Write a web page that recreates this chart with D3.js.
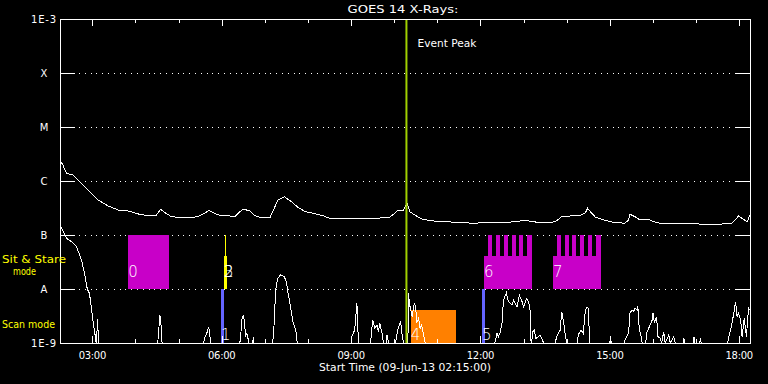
<!DOCTYPE html>
<html><head><meta charset="utf-8">
<script src="https://cdn.jsdelivr.net/npm/d3@7"></script>
<style>
html,body{margin:0;padding:0;background:#000;}
svg{display:block;background:#000;}
text{font-family:"DejaVu Sans",sans-serif;}
</style></head><body>
<svg id="chart" width="768" height="384"></svg>
<script>
// ---------------- data ----------------
const chartTitle = "GOES 14 X-Rays:";
const xAxisTitle = "Start Time (09-Jun-13 02:15:00)";
const timeDomain = ["02:15", "18:15"];
const fluxDomain = [1e-9, 1e-3];
const yTickValues = [1e-9, 1e-8, 1e-7, 1e-6, 1e-5, 1e-4, 1e-3];
const yTickLabels = ["1E-9", "A", "B", "C", "M", "X", "1E-3"];
const gridLevels = [1e-8, 1e-7, 1e-6, 1e-5, 1e-4];
const eventPeakTime = "10:17";
const eventPeakLabel = "Event Peak";
const modeNames = ["Sit & Stare", "mode", "Scan mode"];

// GOES long channel (1-8 A), [time, W/m^2]
const longChannel = [
["02:15",2.45e-6],["02:19",1.98e-6],["02:24",1.39e-6],["02:33",1.29e-6],["02:40",1.04e-6],
["02:54",6.8e-7],["03:08",4.45e-7],["03:22",3.44e-7],["03:36",2.9e-7],["03:50",2.78e-7],
["04:04",2.45e-7],["04:17",2.28e-7],["04:29",2.34e-7],["04:35",2.99e-7],["04:41",2.59e-7],
["04:50",2.18e-7],["05:09",2.07e-7],["05:27",2.18e-7],["05:36",2.52e-7],["05:42",2.86e-7],
["05:50",2.52e-7],["06:00",2.25e-7],["06:09",2.28e-7],["06:18",2.18e-7],["06:25",2.7e-7],
["06:30",2.99e-7],["06:39",2.82e-7],["06:46",2.28e-7],["06:55",2.09e-7],["07:07",2.09e-7],
["07:12",2.9e-7],["07:18",4.45e-7],["07:27",5.12e-7],["07:37",4.14e-7],["07:45",3.34e-7],
["07:56",2.7e-7],["08:08",2.52e-7],["08:22",2.25e-7],["08:31",2.02e-7],["08:52",1.98e-7],
["09:13",2.02e-7],["09:34",2.02e-7],["09:54",2.15e-7],["10:01",2.55e-7],["10:05",2.84e-7],
["10:12",2.78e-7],["10:18",3.86e-7],["10:22",2.67e-7],["10:29",2.34e-7],["10:39",1.95e-7],
["10:54",1.82e-7],["11:13",1.76e-7],["11:32",1.7e-7],["11:50",1.65e-7],["12:18",1.72e-7],
["12:36",1.7e-7],["12:55",1.82e-7],["13:05",1.84e-7],["13:19",1.72e-7],["13:40",1.72e-7],
["13:46",1.84e-7],["13:53",2.18e-7],["14:05",2.25e-7],["14:19",2.32e-7],["14:26",2.59e-7],
["14:29",3.12e-7],["14:33",2.7e-7],["14:40",2.13e-7],["14:51",1.9e-7],["15:05",1.72e-7],
["15:21",1.65e-7],["15:26",1.9e-7],["15:28",2.42e-7],["15:35",2.18e-7],["15:42",1.9e-7],
["15:54",1.95e-7],["16:01",1.76e-7],["16:10",1.65e-7],["16:34",1.65e-7],["16:57",1.6e-7],
["17:34",1.59e-7],["17:50",1.65e-7],["17:55",1.95e-7],["17:59",2.25e-7],["18:06",1.95e-7],
["18:11",1.76e-7],["18:15",2.34e-7]
];

// GOES short channel (0.5-4 A), [time, W/m^2]; 1e-9 = at/below floor
const shortChannel = [
["02:15",1.53e-7],["02:20",1.15e-7],["02:24",8.7e-8],["02:31",7.5e-8],["02:38",6.1e-8],
["02:45",3.4e-8],["02:50",1.7e-8],["02:53",9.9e-9],["02:56",8.3e-9],["02:59",4.1e-9],
["03:01",2.5e-9],["03:03",1.7e-9],["03:05",1.06e-9],["03:06",1e-9],["03:07",2.75e-9],["03:09",1e-9],
["04:31",1e-9],["04:34",3.3e-9],["04:36",1.87e-9],["04:37",1e-9],
["05:35",1e-9],["05:36",1.22e-9],["05:40",1.62e-9],["05:42",2.0e-9],["05:43",1.51e-9],["05:45",1e-9],
["06:25",1e-9],["06:26",1.14e-9],["06:28",2.67e-9],["06:30",3.3e-9],["06:32",2.32e-9],["06:33",1.31e-9],
["06:35",1.51e-9],["06:38",1e-9],["06:43",1e-9],["06:44",1.31e-9],["06:45",1e-9],
["07:11",1e-9],["07:13",2.32e-9],["07:15",9.6e-9],["07:18",1.58e-8],["07:22",1.82e-8],["07:27",1.69e-8],
["07:30",1.37e-8],["07:32",8.9e-9],["07:36",4.45e-9],["07:39",2.48e-9],["07:43",1.74e-9],["07:45",1e-9],
["09:00",1e-9],["09:01",1.31e-9],["09:05",1.74e-9],["09:08",5.43e-9],["09:09",3.55e-9],["09:10",1e-9],
["09:27",1e-9],["09:30",2.67e-9],["09:33",1.87e-9],["09:36",2.16e-9],["09:38",1.62e-9],["09:40",2.32e-9],
["09:43",1.51e-9],["09:45",1e-9],["09:49",1e-9],["09:50",1.41e-9],["09:52",1e-9],
["10:02",1e-9],["10:03",1.31e-9],["10:06",2.0e-9],["10:09",2.48e-9],["10:11",1.41e-9],["10:13",1e-9],
["10:19",1e-9],["10:20",8.3e-9],["10:21",5.43e-9],["10:23",4.1e-9],["10:25",3.07e-9],["10:28",5.57e-9],
["10:30",4.7e-9],["10:31",2.32e-9],["10:34",2.87e-9],["10:36",1.87e-9],["10:38",2.16e-9],["10:41",1.41e-9],
["10:43",1e-9],
["12:20",1e-9],["12:23",1.51e-9],["12:25",1.31e-9],["12:27",1.51e-9],["12:30",2.32e-9],["12:32",6.25e-9],
["12:36",8.5e-9],["12:39",5.8e-9],["12:44",5.06e-9],["12:46",6.25e-9],["12:51",4.7e-9],["12:54",7.7e-9],
["12:58",5.8e-9],["13:00",4.7e-9],["13:04",6.7e-9],["13:07",5.8e-9],["13:09",4.1e-9],["13:10",1.14e-9],
["13:11",1e-9],["13:13",1.62e-9],["13:15",1.74e-9],["13:17",1.22e-9],["13:21",1.31e-9],["13:23",1.41e-9],
["13:25",1.22e-9],["13:28",1e-9],
["13:44",1e-9],["13:46",1.31e-9],["13:51",1.74e-9],["13:53",3.8e-9],["13:56",2.32e-9],["13:58",1.41e-9],["14:00",1e-9],
["14:15",1e-9],["14:16",1.41e-9],["14:20",1.74e-9],["14:23",1.51e-9],["14:26",4.1e-9],["14:28",4.58e-9],
["14:30",4.4e-9],["14:32",1e-9],
["15:00",1e-9],["15:01",1.31e-9],["15:02",1e-9],
["15:20",1e-9],["15:21",1.14e-9],["15:26",1.51e-9],["15:28",3.55e-9],["15:31",4.1e-9],["15:33",3.8e-9],
["15:35",4.4e-9],["15:38",4.1e-9],["15:39",4.84e-9],["15:41",1.74e-9],["15:43",1.41e-9],["15:45",1e-9],
["15:50",1e-9],["15:51",1.51e-9],["15:54",1.87e-9],["15:56",2.16e-9],["15:59",2.67e-9],["16:00",3.64e-9],
["16:02",2.32e-9],["16:05",3.07e-9],["16:07",1.31e-9],["16:10",1.22e-9],["16:12",1e-9],["16:15",1.62e-9],
["16:17",1e-9],["16:22",1.41e-9],["16:24",1e-9],["16:29",1.31e-9],["16:31",1e-9],
["16:42",1e-9],["16:43",1.22e-9],["16:44",1e-9],["16:56",1e-9],["16:57",1.31e-9],["16:58",1e-9],
["17:05",1e-9],["17:06",1.22e-9],["17:07",1e-9],
["17:44",1e-9],["17:45",1.22e-9],["17:49",2.0e-9],["17:52",3.3e-9],["17:55",5.8e-9],["17:57",3.07e-9],
["17:59",3.55e-9],["18:02",2.67e-9],["18:04",1.31e-9],["18:07",2.87e-9],["18:10",1.31e-9],["18:13",4.4e-9],
["18:15",4.1e-9]
];

// observations: label, start, end, lower/upper flux level, kind
const observations = [
  {label:"0", start:"03:50", end:"04:47", low:1e-8, high:1e-7,   kind:"sitstare"},
  {label:"1", start:"05:59", end:"06:03", low:1e-9, high:1e-8,   kind:"scan"},
  {label:"2", start:"06:03", end:"06:08", low:1e-8, high:4.1e-8, kind:"sitstareAlt"},
  {label:"3", start:"06:03", end:"06:08", low:1e-8, high:4.1e-8, kind:"sitstareAlt"},
  {label:"4", start:"10:23", end:"11:26", low:1e-9, high:4.1e-9, kind:"raster"},
  {label:"5", start:"12:02", end:"12:06", low:1e-9, high:1e-8,   kind:"scan"},
  {label:"6", start:"12:05", end:"13:11", low:1e-8, high:4.1e-8, kind:"sitstare"},
  {label:"7", start:"13:41", end:"14:47", low:1e-8, high:4.1e-8, kind:"sitstare"}
];
// short full-height sit & stare exposures [start, end, kind]
const exposures = [
  ["06:05","06:06","sitstareAlt"],
  ["12:10","12:16","sitstare"],["12:21","12:27","sitstare"],["12:33","12:38","sitstare"],
  ["12:44","12:49","sitstare"],["12:54","12:59","sitstare"],["13:05","13:11","sitstare"],
  ["13:47","13:52","sitstare"],["13:58","14:03","sitstare"],["14:08","14:13","sitstare"],
  ["14:18","14:24","sitstare"],["14:30","14:35","sitstare"],["14:41","14:47","sitstare"]
];
const kindColor = {sitstare:"#c800c8", sitstareAlt:"#ffff00", scan:"#6464ff", raster:"#ff8000"};

// ---------------- chart ----------------
const parseT = d3.utcParse("%H:%M");
const svg = d3.select("#chart");
const L = 60, R = 750, T = 19, B = 343;
const x = d3.scaleUtc().domain(timeDomain.map(parseT)).range([L, R]);
const y = d3.scaleLog().domain(fluxDomain).range([B, T]).clamp(true);
const px = v => Math.round(v) + 0.5;

// gridlines (dotted) and y ticks
const grid = svg.append("g").attr("stroke", "#fff").attr("stroke-width", 1).attr("shape-rendering", "crispEdges");
gridLevels.forEach(v => {
  const yy = px(y(v));
  grid.append("line").attr("x1", L + 19).attr("x2", R - 16).attr("y1", yy).attr("y2", yy)
    .attr("stroke-dasharray", "1,4.8");
  grid.append("line").attr("x1", L).attr("x2", L + 15).attr("y1", yy).attr("y2", yy);
  grid.append("line").attr("x1", R - 15).attr("x2", R).attr("y1", yy).attr("y2", yy);
});

// observation boxes
const obsG = svg.append("g").attr("shape-rendering", "crispEdges");
obsG.selectAll("rect.obs").data(observations).join("rect").attr("class", "obs")
  .attr("x", d => Math.round(x(parseT(d.start))))
  .attr("width", d => Math.max(1, Math.round(x(parseT(d.end))) - Math.round(x(parseT(d.start)))))
  .attr("y", d => Math.round(y(d.high)))
  .attr("height", d => Math.round(y(d.low)) - Math.round(y(d.high)))
  .attr("fill", d => kindColor[d.kind]);
obsG.selectAll("rect.exp").data(exposures).join("rect").attr("class", "exp")
  .attr("x", d => Math.round(x(parseT(d[0]))))
  .attr("width", d => Math.max(1, Math.round(x(parseT(d[1]))) - Math.round(x(parseT(d[0])))))
  .attr("y", Math.round(y(1e-7)))
  .attr("height", Math.round(y(1e-8)) - Math.round(y(1e-7)))
  .attr("fill", d => kindColor[d[2]]);

// curves
const line = d3.line().x(d => x(parseT(d[0]))).y(d => y(d[1]));
svg.append("path").datum(longChannel).attr("d", line)
  .attr("fill", "none").attr("stroke", "#fff").attr("stroke-width", 1).attr("shape-rendering", "crispEdges");
svg.append("path").datum(shortChannel).attr("d", line)
  .attr("fill", "none").attr("stroke", "#fff").attr("stroke-width", 1).attr("shape-rendering", "crispEdges");

// event peak
const ex = x(parseT(eventPeakTime));
svg.append("line").attr("x1", ex).attr("x2", ex).attr("y1", T).attr("y2", B)
  .attr("stroke", "#a0d000").attr("stroke-width", 2);
svg.append("text").attr("x", ex + 11).attr("y", 47).attr("fill", "#fff")
  .attr("font-size", 11).attr("textLength", 59).attr("lengthAdjust", "spacingAndGlyphs").text(eventPeakLabel);

// observation labels
svg.append("g").selectAll("text").data(observations).join("text")
  .attr("x", d => x(parseT(d.start)))
  .attr("y", d => d.low === 1e-9 ? B - 3 : y(d.low) - 12)
  .attr("fill", "#fff").attr("font-size", 15).attr("font-weight", 200)
  .text(d => d.label);

// frame
svg.append("rect").attr("x", L + 0.5).attr("y", T + 0.5).attr("width", R - L).attr("height", B - T)
  .attr("fill", "none").attr("stroke", "#fff").attr("shape-rendering", "crispEdges");

// x ticks
const hours = x.ticks(d3.utcHour.every(1));
const tk = svg.append("g").attr("stroke", "#fff").attr("shape-rendering", "crispEdges");
hours.forEach(h => {
  const xx = px(x(h));
  const len = h.getUTCHours() % 3 === 0 ? 7 : 4;
  tk.append("line").attr("x1", xx).attr("x2", xx).attr("y1", B).attr("y2", B - len);
  tk.append("line").attr("x1", xx).attr("x2", xx).attr("y1", T).attr("y2", T + len);
});
svg.append("g").selectAll("text").data(x.ticks(d3.utcHour.every(3))).join("text")
  .attr("x", d => x(d)).attr("y", 359).attr("text-anchor", "middle")
  .attr("fill", "#fff").attr("font-size", 10).attr("letter-spacing", "-0.3")
  .text(d3.utcFormat("%H:%M"));

// y labels
svg.append("g").selectAll("text").data(yTickValues).join("text")
  .attr("x", 44).attr("y", d => y(d) + 4).attr("text-anchor", "middle")
  .attr("fill", "#ffffff").attr("font-size", 10)
  .attr("letter-spacing", (d, i) => yTickLabels[i].length > 1 ? "0.8" : "0")
  .text((d, i) => yTickLabels[i]);

// mode labels
svg.append("text").attr("x", 2).attr("y", 263).attr("fill", "#ffff00").attr("font-size", 11)
  .attr("textLength", 64).attr("lengthAdjust", "spacingAndGlyphs").text(modeNames[0]);
svg.append("text").attr("x", 13).attr("y", 275).attr("fill", "#ffff00").attr("font-size", 11)
  .attr("textLength", 23).attr("lengthAdjust", "spacingAndGlyphs").text(modeNames[1]);
svg.append("text").attr("x", 2).attr("y", 328).attr("fill", "#ffff00").attr("font-size", 11)
  .attr("textLength", 53).attr("lengthAdjust", "spacingAndGlyphs").text(modeNames[2]);

// titles
svg.append("text").attr("x", 403).attr("y", 13).attr("text-anchor", "middle").attr("fill", "#fff")
  .attr("font-size", 11).attr("textLength", 111).attr("lengthAdjust", "spacingAndGlyphs").text(chartTitle);
svg.append("text").attr("x", 405).attr("y", 371).attr("text-anchor", "middle").attr("fill", "#fff")
  .attr("font-size", 11).attr("textLength", 172).attr("lengthAdjust", "spacingAndGlyphs").text(xAxisTitle);
</script>
</body></html>
